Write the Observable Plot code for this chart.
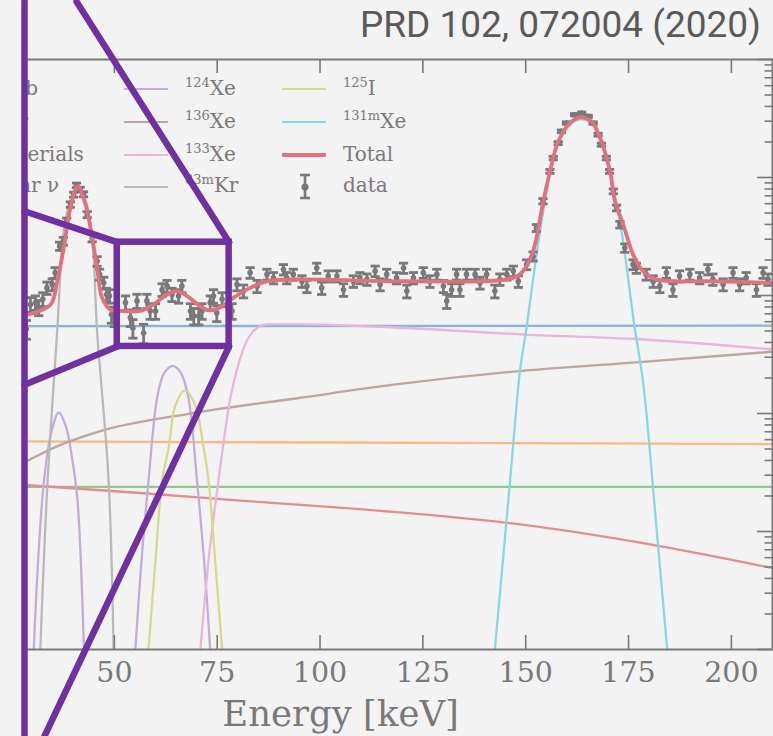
<!DOCTYPE html>
<html><head><meta charset="utf-8">
<script src="https://cdn.jsdelivr.net/npm/d3@7"></script>
<script src="https://cdn.jsdelivr.net/npm/@observablehq/plot@0.6"></script>
<style>
html,body{margin:0;padding:0;background:#f3f3f3;}
#wrap{position:relative;width:773px;height:736px;overflow:hidden;background:#f3f3f3;}
#wrap > svg{position:absolute;left:0;top:0;}
#title{position:absolute;right:12px;top:6px;font-family:Roboto,sans-serif;font-size:37px;line-height:1;color:#5a5a5a;white-space:nowrap;}
#legend{position:absolute;left:24px;top:59px;width:749px;height:160px;overflow:hidden;font-family:"DejaVu Serif",serif;font-size:20px;color:#797979;}
#legend .lab{position:absolute;white-space:nowrap;line-height:20px;}
#legend .lab sup{font-size:13px;vertical-align:baseline;position:relative;top:-8px;}
#legend .sw{position:absolute;height:0;}
</style></head>
<body><div id="wrap"><div id="title">PRD 102, 072004 (2020)</div></div>
<script>
// ---------- axes ----------
const energyRange = [0, 210];        // full energy axis of the original figure (keV)
const visibleEnergy = [28.15, 210];  // part of it visible in this crop
const yDomain = [0.1, 1e4];          // Events/(t·yr·keV), log
const xTicks = [50, 75, 100, 125, 150, 175, 200];
const xLabel = "Energy [keV]";

// ---------- background components (energy keV, rate) ----------
const pb214E = [28.1, 210];            const pb214V = [55, 55.5];
const kr85E = [28.1, 120, 210];        const kr85V = [5.8, 5.65, 5.5];
const materialsE = [28.1, 210];        const materialsV = [2.39, 2.39];
const solarE = [28.1, 54.6, 80.6, 119.4, 145, 181.9, 210];
const solarV = [2.48, 2.14, 1.83, 1.45, 1.19, 0.76, 0.49];
const xe124aE = [30.4, 31.5, 32.8, 34.5, 36.5, 38.3, 39.7, 41.0, 42.6];
const xe124aV = [0.1, 0.6, 2.5, 6.5, 10.2, 7.6, 4.2, 1.9, 0.1];
const xe124bE = [55.1, 56.6, 58.3, 60.4, 62.1, 64.2, 66.2, 68.0, 70.1, 71.8, 73.3];
const xe124bV = [0.1, 0.57, 2.69, 13.6, 22, 25.3, 22, 13.6, 2.69, 0.57, 0.1];
const xe136E = [28.1, 36.9, 46.6, 67.7, 95.2, 119.4, 148.6, 177.7, 210];
const xe136V = [3.85, 5.42, 7.1, 9.9, 13.6, 17.8, 22.9, 27.3, 33.4];
const xe133E = [70.9, 72.8, 75.3, 78.2, 80.6, 83.8, 87.2, 95.2, 119.4, 148.6, 177.7, 210];
const xe133V = [0.1, 0.53, 2.69, 13.6, 29.5, 50, 57, 57, 53.3, 46.9, 42.6, 35];
const kr83mE = [32.0, 33.7, 36.1, 37.7, 39.3, 41.1, 43.0, 44.6, 45.8, 48.6, 49.8];
const kr83mV = [0.1, 2.44, 50, 351, 630, 795, 630, 308, 50, 2.69, 0.1];
const i125E = [58.3, 60.0, 61.6, 63.2, 64.8, 67.2, 69.7, 71.7, 72.9, 74.5, 76.2];
const i125V = [0.1, 0.57, 2.69, 5.14, 11.6, 15.7, 11.6, 5.14, 2.69, 0.57, 0.1];
const xe131mE = [142.5, 146.2, 147.0, 148.6, 150.2, 151.4, 153.5, 155.9, 157.9, 160.7, 163.2, 166.0, 168.4, 170.5, 173.3, 175.3, 176.5, 178.5, 180.0, 180.8, 184.4];
const xe131mV = [0.1, 2.69, 5.68, 22.9, 53.3, 109, 351, 1086, 1945, 2780, 3105, 2877, 1945, 1086, 351, 109, 53.3, 18.9, 5.68, 2.69, 0.1];
const totalE = [28.1, 29.2, 34.5, 36.1, 37.7, 39.3, 41.1, 43.0, 44.6, 45.8, 47.0, 49.0, 51.5, 56.3, 59.5, 62.8, 65.2, 67.7, 70.9, 73.3, 75.7, 79.0, 83.0, 87.1, 95.2, 119.5, 147.0, 149.4, 151.8, 154.3, 155.9, 157.9, 160.7, 163.2, 166.0, 168.4, 170.5, 171.7, 173.7, 176.1, 178.5, 181.8, 195.5, 209.8];
const totalV = [68, 69, 84, 132, 253, 552, 843, 590, 308, 171, 96, 76, 74, 74, 84, 102, 109, 99, 81, 75, 79, 96, 116, 132, 137, 132, 141, 161, 238, 630, 1127, 2022, 2891, 3228, 2985, 2022, 1127, 630, 400, 223, 161, 137, 132, 128];

// ---------- data points ----------
const dataE = [28.6,29.6,30.8,31.6,32.6,33.6,34.9,35.6,36.7,37.6,38.4,39.3,40.1,40.8,41.7,42.5,43.4,44.6,45.8,46.4,47.4,48.1,48.8,49.3,50.0,52.7,53.9,54.5,55.5,57.1,57.9,58.7,60.0,61.6,62.8,64.0,65.6,66.4,68.5,69.3,70.5,71.3,73.3,74.1,74.9,76.2,78.6,79.8,81.4,83.0,84.7,87.1,88.7,91.1,91.9,93.5,95.6,96.8,99.2,100.4,102.0,104.1,105.7,108.1,109.7,111.4,113.4,114.6,116.2,118.6,120.3,121.1,122.7,125.1,126.7,128.4,130.0,130.8,132.0,133.2,134.0,135.6,137.7,138.9,140.5,142.5,143.7,145.4,147.0,148.2,150.2,151.8,152.6,154.2,155.9,156.7,157.9,158.7,159.9,161.9,163.6,165.2,166.4,167.6,168.4,169.6,170.4,171.3,172.1,172.9,174.1,176.1,176.9,179.3,181.0,182.6,184.2,185.8,187.4,189.9,192.3,194.3,195.5,198.0,200.4,202.0,203.6,206.1,207.7,208.9];
const dataV = [52,84,87,79,93,116,124,156,262,289,426,590,716,859,790,721,485,308,195,151,128,102,99,69,65,87,65,53,90,48,90,74,74,112,120,102,99,120,74,67,67,74,87,99,71,93,74,124,109,156,120,151,141,166,141,151,132,120,171,116,146,146,112,132,141,137,161,124,151,141,171,109,141,156,132,151,120,90,112,151,112,151,151,128,151,109,137,151,161,132,183,215,374,630,1127,1462,1957,2460,2893,3404,3513,3297,2893,2307,1897,1462,1127,764,552,399,253,183,171,151,132,120,156,112,146,151,141,166,137,124,156,124,141,112,156,137];
const dataErr = [9.4,11.9,12.2,11.6,12.6,14.0,14.5,16.3,21.1,22.2,26.9,31.7,34.9,38.2,36.6,35.0,28.7,22.9,18.2,16.0,14.8,13.2,13.0,10.8,10.5,12.2,10.5,9.5,12.4,9.0,12.4,11.2,11.2,13.8,14.3,13.2,13.0,14.3,11.2,10.7,10.7,11.2,12.2,13.0,11.0,12.6,11.2,14.5,13.6,16.3,14.3,16.0,15.5,16.8,15.5,16.0,15.0,14.3,17.0,14.0,15.8,15.8,13.8,15.0,15.5,15.3,16.5,14.5,16.0,15.5,17.0,13.6,15.5,16.3,15.0,16.0,14.3,12.4,13.8,16.0,13.8,16.0,16.0,14.8,16.0,13.6,15.3,16.0,16.5,15.0,17.6,19.1,25.2,32.7,43.8,49.9,57.7,64.7,70.1,76.1,77.3,74.9,70.1,62.6,56.8,49.9,43.8,36.0,30.6,26.0,20.7,17.6,17.0,16.0,15.0,14.3,16.3,13.8,15.8,16.0,15.5,16.8,15.3,14.5,16.3,14.5,15.5,13.8,16.3,15.3];

// ---------- legend ----------
const legendLabels = [
  "<sup>214</sup>Pb", "<sup>85</sup>Kr", "Materials", "Solar ν",
  "<sup>124</sup>Xe", "<sup>136</sup>Xe", "<sup>133</sup>Xe", "<sup>83m</sup>Kr",
  "<sup>125</sup>I", "<sup>131m</sup>Xe", "Total", "data"];
const legendColors = ["#89b5d4","#f9b980","#8fc98f","#e48d8d","#c3add8","#bfa49f","#ebb5da","#b9b9b9","#d7d88a","#85d8e1","#e1717f","#797979"];

// ---------- zoom annotation (data coordinates) ----------
const zoomBoxE = [50.7, 77.9];
const zoomBoxV = [37, 283];
const zoomLinks = [
  {id: "left edge", E: [28.15, 28.15], V: [30950, 0.0184]},
  {id: "upper link", E: [28.15, 50.7], V: [518, 283]},
  {id: "lower link", E: [28.15, 50.7], V: [17.5, 37]},
  {id: "top diag", E: [40.8, 77.9], V: [30950, 283]},
  {id: "bottom diag", E: [77.9, 33.0], V: [37, 0.0184]}
];

// ---------- build ----------
const W = 773, H = 736;
const M = {marginTop: 59, marginBottom: 87, marginLeft: 24, marginRight: 1};
const frameW = W - M.marginLeft - M.marginRight, frameH = H - M.marginTop - M.marginBottom;
const axisColor = "#797979";
const purple = "#7030a0";

// [energies, values, legend index, curve]
const series = [
  [pb214E, pb214V, 0, "monotone-x"], [kr85E, kr85V, 1, "monotone-x"], [materialsE, materialsV, 2, "monotone-x"], [solarE, solarV, 3, "monotone-x"],
  [xe124aE, xe124aV, 4, "catmull-rom"], [xe124bE, xe124bV, 4, "catmull-rom"], [xe136E, xe136V, 5, "monotone-x"], [xe133E, xe133V, 6, "monotone-x"],
  [kr83mE, kr83mV, 7, "catmull-rom"], [i125E, i125V, 8, "catmull-rom"], [xe131mE, xe131mV, 9, "catmull-rom"]
];
const rows = (E, V) => E.map((e, i) => ({e, v: V[i]}));
const dataRows = dataE.map((e, i) => ({e, v: dataV[i], lo: dataV[i] - dataErr[i], hi: dataV[i] + dataErr[i]}));

const capSymbol = {draw(ctx, size) { const w = Math.sqrt(size / Math.PI); ctx.moveTo(-w, 0); ctx.lineTo(w, 0); }};

const yTicksAll = d3.scaleLog().domain(yDomain).ticks();
const yMajor = yTicksAll.filter(d => Math.abs(Math.log10(d) - Math.round(Math.log10(d))) < 1e-9);
const yMinor = yTicksAll.filter(d => !yMajor.includes(d));
const dataColor = legendColors[11];

const main = Plot.plot({
  width: W, height: H, ...M,
  style: {background: "#f3f3f3", fontFamily: "DejaVu Serif", fontSize: "28.5px", color: axisColor},
  x: {domain: visibleEnergy, axis: null},
  y: {type: "log", domain: yDomain, axis: null},
  marks: [
    ...series.map(([E, V, k, curve]) => Plot.line(rows(E, V), {x: "e", y: "v", stroke: legendColors[k], strokeWidth: 2.3, curve, clip: true})),
    Plot.ruleX(dataRows, {x: "e", y1: "lo", y2: "hi", stroke: dataColor, strokeWidth: 2.8, clip: true}),
    Plot.dot(dataRows, {x: "e", y: "lo", symbol: capSymbol, r: 4.6, fill: "none", stroke: dataColor, strokeWidth: 2.8, clip: true}),
    Plot.dot(dataRows, {x: "e", y: "hi", symbol: capSymbol, r: 4.6, fill: "none", stroke: dataColor, strokeWidth: 2.8, clip: true}),
    Plot.dot(dataRows, {x: "e", y: "v", r: 2.8, fill: dataColor, stroke: "none", clip: true}),
    Plot.line(rows(totalE, totalV), {x: "e", y: "v", stroke: legendColors[10], strokeWidth: 3.8, curve: "catmull-rom", clip: true}),
    Plot.tickX(xTicks, {x: d => d, insetTop: frameH - 14, stroke: axisColor, strokeWidth: 1.6}),
    Plot.tickX(xTicks, {x: d => d, insetBottom: frameH - 14, stroke: axisColor, strokeWidth: 1.6}),
    Plot.tickY(yMajor, {y: d => d, insetLeft: frameW - 15, stroke: axisColor, strokeWidth: 1.6}),
    Plot.tickY(yMinor, {y: d => d, insetLeft: frameW - 7.5, stroke: axisColor, strokeWidth: 1.6}),
    Plot.frame({stroke: axisColor, strokeWidth: 2}),
    Plot.axisX(xTicks, {tickSize: 0, tickPadding: 12, fill: axisColor, fontSize: 28.5, label: null}),
    Plot.text([{e: (energyRange[0] + energyRange[1]) / 2, t: xLabel}], {x: "e", text: "t", frameAnchor: "bottom", lineAnchor: "bottom", dy: 76, fontSize: 35.5, fill: axisColor, fontFamily: "DejaVu Serif"})
  ]
});
const wrap = document.getElementById("wrap");
wrap.insertBefore(main, wrap.firstChild);

// legend (inside the axes, clipped at the crop edge)
const leg = document.createElement("div");
leg.id = "legend";
const colX = [-13, 185, 343];
const rowY = [89, 122.3, 155.3, 186.7];
legendLabels.forEach((lab, i) => {
  const c = Math.floor(i / 4), r = i % 4;
  const x = colX[c] - 24, y = rowY[r] - 59;
  if (lab === "data") {
    const s = document.createElementNS("http://www.w3.org/2000/svg", "svg");
    s.setAttribute("width", 20); s.setAttribute("height", 30);
    s.style.position = "absolute"; s.style.left = (x - 48) + "px"; s.style.top = (y - 15) + "px";
    s.innerHTML = `<g stroke="${legendColors[i]}" stroke-width="2.6"><line x1="10" x2="10" y1="3" y2="26"/><line x1="5" x2="15" y1="3" y2="3"/><line x1="5" x2="15" y1="26" y2="26"/></g><circle cx="10" cy="15" r="3.6" fill="${legendColors[i]}"/>`;
    leg.appendChild(s);
  } else {
    const sw = document.createElement("div");
    sw.className = "sw";
    const t = lab === "Total" ? 4 : 2.4;
    sw.style.cssText = `left:${x - 61}px;top:${y - t / 2}px;width:44px;border-top:${t}px solid ${legendColors[i]};`;
    leg.appendChild(sw);
  }
  const d = document.createElement("div");
  d.className = "lab";
  d.innerHTML = lab;
  d.style.left = x + "px";
  d.style.top = (y - 11.4) + "px";
  leg.appendChild(d);
});
wrap.appendChild(leg);

// zoom-region annotation on top
const linkRows = zoomLinks.flatMap(l => l.E.map((e, i) => ({id: l.id, e, v: l.V[i]})));
const overlay = Plot.plot({
  width: W, height: H, ...M,
  style: {background: "transparent"},
  x: {domain: visibleEnergy, axis: null},
  y: {type: "log", domain: yDomain, axis: null},
  marks: [
    Plot.line(linkRows, {x: "e", y: "v", z: "id", stroke: purple, strokeWidth: 6.5}),
    Plot.rect([{x1: zoomBoxE[0], x2: zoomBoxE[1], y1: zoomBoxV[0], y2: zoomBoxV[1]}], {x1: "x1", x2: "x2", y1: "y1", y2: "y2", fill: "none", stroke: purple, strokeWidth: 6.5})
  ]
});
overlay.style.pointerEvents = "none";
wrap.appendChild(overlay);
</script></body></html>
